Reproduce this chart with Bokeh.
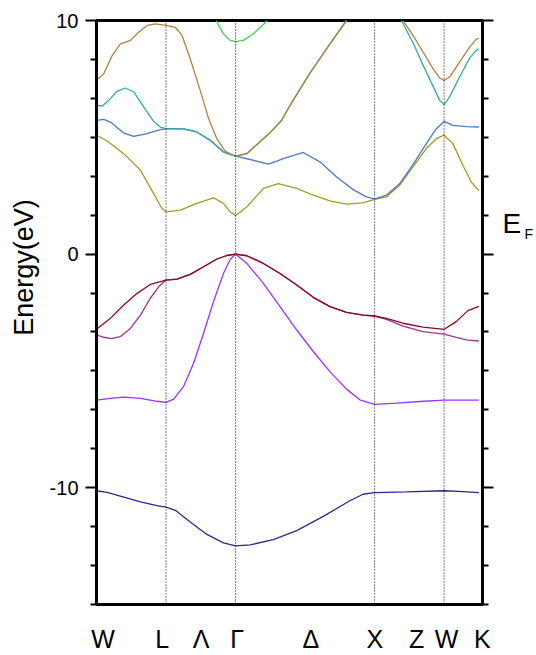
from bokeh.plotting import figure
from bokeh.models import Range1d, LinearAxis, FixedTicker, Span
from bokeh.embed import file_html
from bokeh.resources import INLINE

# ---------------- data (k-path coordinate, energy in eV) ----------------
navy_k = [0, 0.077, 0.196, 0.316, 0.435, 0.5, 0.567, 0.674, 0.794, 0.913, 1.0, 1.105, 1.272, 1.44, 1.631, 1.822, 1.917, 2.0, 2.229, 2.5, 2.635, 2.75]
navy_E = [-10.13, -10.2, -10.4, -10.61, -10.77, -10.83, -10.97, -11.47, -12.0, -12.36, -12.49, -12.45, -12.22, -11.84, -11.23, -10.56, -10.28, -10.21, -10.18, -10.13, -10.17, -10.21]

violet_k = [0, 0.1, 0.196, 0.316, 0.435, 0.5, 0.555, 0.626, 0.698, 0.77, 0.841, 0.913, 0.961, 1.0, 1.081, 1.2, 1.32, 1.44, 1.559, 1.679, 1.798, 1.894, 2.0, 2.157, 2.324, 2.5, 2.75]
violet_E = [-6.25, -6.18, -6.12, -6.18, -6.3, -6.35, -6.21, -5.67, -4.67, -3.39, -2.04, -0.83, -0.23, 0.0, -0.4, -1.25, -2.25, -3.25, -4.17, -5.03, -5.78, -6.24, -6.43, -6.38, -6.31, -6.25, -6.25]

purple_k = [0, 0.052, 0.105, 0.172, 0.244, 0.316, 0.387, 0.447, 0.5, 0.579, 0.674, 0.77, 0.866, 0.938, 1.0, 1.081, 1.2, 1.32, 1.44, 1.559, 1.679, 1.798, 1.917, 2.0, 2.085, 2.204, 2.348, 2.5, 2.587, 2.671, 2.75]
purple_E = [-3.46, -3.56, -3.62, -3.53, -3.18, -2.61, -1.89, -1.4, -1.11, -1.07, -0.87, -0.54, -0.21, -0.06, 0.0, -0.07, -0.4, -0.83, -1.32, -1.85, -2.25, -2.49, -2.61, -2.65, -2.79, -3.08, -3.32, -3.43, -3.56, -3.68, -3.72]

darkred_k = [0, 0.1, 0.196, 0.292, 0.387, 0.5, 0.579, 0.674, 0.77, 0.866, 0.938, 1.0, 1.081, 1.2, 1.32, 1.44, 1.559, 1.679, 1.798, 1.917, 2.0, 2.085, 2.204, 2.348, 2.5, 2.587, 2.671, 2.75]
darkred_E = [-3.22, -2.75, -2.18, -1.68, -1.3, -1.11, -1.07, -0.87, -0.54, -0.21, -0.06, 0.0, -0.07, -0.4, -0.83, -1.32, -1.85, -2.25, -2.49, -2.61, -2.65, -2.75, -2.96, -3.13, -3.22, -2.89, -2.42, -2.24]

olive_k = [0, 0.077, 0.196, 0.316, 0.411, 0.471, 0.5, 0.603, 0.722, 0.841, 0.913, 0.961, 1.0, 1.081, 1.2, 1.308, 1.44, 1.559, 1.679, 1.798, 1.917, 2.0, 2.085, 2.181, 2.276, 2.372, 2.444, 2.5, 2.563, 2.635, 2.695, 2.75]
olive_E = [5.09, 4.84, 4.3, 3.59, 2.59, 1.95, 1.81, 1.88, 2.17, 2.41, 2.17, 1.81, 1.65, 2.02, 2.81, 3.02, 2.81, 2.52, 2.28, 2.14, 2.19, 2.34, 2.45, 2.95, 3.73, 4.52, 4.94, 5.09, 4.73, 3.8, 3.09, 2.71]

blue_k = [0, 0.052, 0.1, 0.172, 0.196, 0.268, 0.364, 0.459, 0.5, 0.626, 0.722, 0.818, 0.913, 1.0, 1.105, 1.236, 1.344, 1.487, 1.607, 1.727, 1.846, 1.942, 2.0, 2.085, 2.181, 2.276, 2.372, 2.444, 2.5, 2.563, 2.659, 2.75]
blue_E = [5.72, 5.77, 5.65, 5.3, 5.18, 5.04, 5.16, 5.33, 5.37, 5.36, 5.23, 4.87, 4.37, 4.19, 4.05, 3.85, 4.09, 4.35, 3.95, 3.3, 2.76, 2.45, 2.35, 2.52, 3.02, 3.83, 4.73, 5.37, 5.68, 5.51, 5.46, 5.44]

teal_a_k = [0, 0.041, 0.088, 0.148, 0.208, 0.268, 0.339, 0.411, 0.459, 0.5, 0.626, 0.722, 0.818, 0.913, 1.0, 1.081, 1.2, 1.243, 1.332, 1.392, 1.535, 1.679, 1.798]
teal_a_E = [6.37, 6.34, 6.58, 6.97, 7.11, 6.94, 6.3, 5.68, 5.44, 5.37, 5.36, 5.23, 4.87, 4.37, 4.19, 4.3, 4.94, 5.17, 5.73, 6.37, 7.75, 9.0, 10.0]
teal_b_k = [2.193, 2.276, 2.348, 2.42, 2.468, 2.5, 2.539, 2.611, 2.683, 2.731, 2.75]
teal_b_E = [10.0, 9.05, 8.1, 7.19, 6.58, 6.4, 6.72, 7.58, 8.39, 8.72, 8.79]

brown_a_k = [0, 0.052, 0.113, 0.172, 0.244, 0.303, 0.364, 0.423, 0.5, 0.567, 0.615, 0.674, 0.746, 0.806, 0.866, 0.925, 1.0, 1.081, 1.2, 1.243, 1.332, 1.392, 1.535, 1.679, 1.798]
brown_a_E = [7.44, 7.72, 8.5, 9.0, 9.15, 9.5, 9.79, 9.86, 9.79, 9.71, 9.36, 8.36, 7.01, 5.8, 4.94, 4.41, 4.19, 4.3, 4.94, 5.17, 5.73, 6.37, 7.75, 9.0, 10.0]
brown_b_k = [2.204, 2.276, 2.348, 2.42, 2.468, 2.5, 2.539, 2.611, 2.683, 2.731, 2.75]
brown_b_E = [10.0, 9.36, 8.65, 7.94, 7.54, 7.44, 7.58, 8.22, 8.86, 9.19, 9.24]

green_k = [0.861, 0.913, 0.961, 1.0, 1.057, 1.128, 1.229]
green_E = [10.0, 9.43, 9.15, 9.1, 9.15, 9.43, 10.0]

# high-symmetry points (dotted lines) and path labels
sym_k = [0.5, 1.0, 2.0, 2.5]
path_labels = ["W", "L", "Λ", "Γ", "Δ", "X", "Z", "W", "K"]
path_label_k = [0.047, 0.473, 0.753, 1.011, 1.542, 2.001, 2.303, 2.518, 2.774]

y_major = [-10, 0, 10]
y_major_text = ["-10", "0", "10"]
y_minor = [-15, -13.333, -11.667, -8.333, -6.667, -5, -3.333, -1.667,
           1.667, 3.333, 5, 6.667, 8.333]

y_title = "Energy(eV)"
fermi_main, fermi_sub = "E", "F"
fermi_main_y, fermi_sub_y = 1.3, 0.85

# ---------------- figure ----------------
p = figure(width=536, height=655, x_range=Range1d(0, 2.776), y_range=Range1d(-15, 10),
           output_backend="svg", toolbar_location=None,
           x_axis_location=None, y_axis_location=None,
           min_border_left=96, min_border_right=53, min_border_top=20, min_border_bottom=50)
p.grid.grid_line_color = None
p.outline_line_color = "black"
p.outline_line_width = 3
p.background_fill_color = "white"
p.border_fill_color = "white"

FONT = "Liberation Sans"

def tick_axis(show_labels):
    ax = LinearAxis(ticker=FixedTicker(ticks=y_major, minor_ticks=y_minor))
    ax.axis_line_width = 3
    ax.axis_line_color = "black"
    ax.major_tick_out = 11
    ax.major_tick_in = 0
    ax.minor_tick_out = 6
    ax.minor_tick_in = 0
    ax.major_tick_line_width = 2
    ax.minor_tick_line_width = 2
    ax.major_label_overrides = dict(zip(y_major, y_major_text))
    ax.major_label_text_font = FONT
    if show_labels:
        ax.major_label_standoff = 7
        ax.major_label_text_font_size = "20px"
        ax.major_label_text_color = "black"
    else:
        ax.major_label_standoff = 0
        ax.major_label_text_font_size = "0px"
        ax.major_label_text_alpha = 0
    return ax

left = tick_axis(True)
left.axis_label = "\u00a0" * 12 + y_title
left.axis_label_text_font = FONT
left.axis_label_text_font_size = "27px"
left.axis_label_text_font_style = "normal"
left.axis_label_text_color = "black"
left.axis_label_standoff = 8
p.add_layout(left, "left")
p.add_layout(tick_axis(False), "right")

def text_axis(ticks, labels, size, standoff):
    ax = LinearAxis(ticker=FixedTicker(ticks=ticks, minor_ticks=[]))
    ax.axis_line_color = None
    ax.major_tick_line_color = None
    ax.minor_tick_line_color = None
    ax.major_tick_out = 0
    ax.major_tick_in = 0
    ax.minor_tick_out = 0
    ax.minor_tick_in = 0
    ax.major_label_overrides = dict(zip(ticks, labels))
    ax.major_label_text_font = FONT
    ax.major_label_text_font_size = size
    ax.major_label_text_color = "black"
    ax.major_label_standoff = standoff
    return ax

# Fermi level label on the right: "E" then a small subscript "F"
p.add_layout(text_axis([fermi_main_y], [fermi_main], "28px", 9), "right")
p.add_layout(text_axis([fermi_sub_y], [fermi_sub], "14px", 0), "right")

# k-path labels below the frame
bottom = text_axis(path_label_k, path_labels, "25px", 20)
p.add_layout(bottom, "below")

for k in sym_k:
    p.add_layout(Span(location=k, dimension="height", line_color="black",
                      line_width=1, line_dash="1 2"))

bands = [
    (navy_k, navy_E, "#2A2A8C"),
    (violet_k, violet_E, "#9933FF"),
    (purple_k, purple_E, "#993399"),
    (darkred_k, darkred_E, "#8B0A2A"),
    (olive_k, olive_E, "#9E9E22"),
    (blue_k, blue_E, "#4A7CC4"),
    (teal_a_k, teal_a_E, "#33AAAA"),
    (teal_b_k, teal_b_E, "#33AAAA"),
    (brown_a_k, brown_a_E, "#B3803E"),
    (brown_b_k, brown_b_E, "#B3803E"),
    (green_k, green_E, "#3CD35A"),
]
for xs, ys, c in bands:
    p.line(xs, ys, line_color=c, line_width=1.3)

open("out.html", "w").write(file_html(p, INLINE))
